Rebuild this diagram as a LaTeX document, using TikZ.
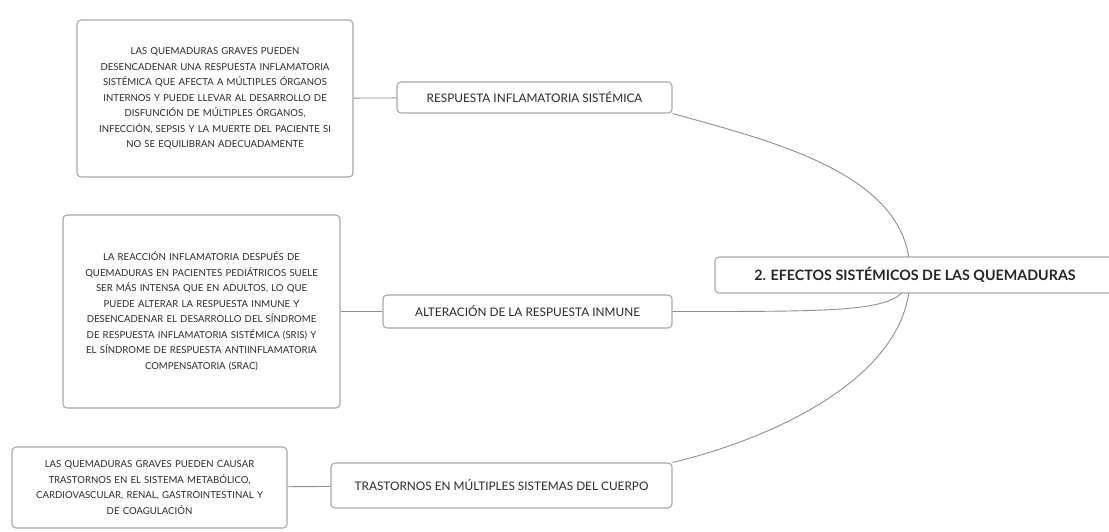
\documentclass[tikz,border=0pt]{standalone}
\usepackage{fontspec}
\setmainfont{Lato}
\usetikzlibrary{positioning}
\definecolor{boxgray}{HTML}{A8A8A8}
\definecolor{linegray}{HTML}{8E8E8E}
\definecolor{textgray}{HTML}{2A2A2A}

\begin{document}
\begin{tikzpicture}
    [
        x=1pt, y=-1pt,
        detail/.style = {
            rectangle, rounded corners=4pt, draw=boxgray, line width=1.1pt,
            fill=white, text=textgray, align=center, inner sep=0pt,
            font=\fontsize{9.6}{15.5}\selectfont
            },
        topic/.style = {
            rectangle, rounded corners=4pt, draw=boxgray, line width=1.1pt,
            fill=white, text=textgray, inner sep=0pt,
            font=\fontsize{11.8}{13}\selectfont
            },
        central/.style = {
            rectangle, rounded corners=4pt, draw=boxgray, line width=1.1pt,
            fill=white, text=black!85, inner sep=0pt,
            font=\fontsize{14.3}{16}\selectfont\bfseries
            },
        link/.style = {
            draw=linegray, line width=0.9pt
            },
    ]
    \useasboundingbox (0,0) rectangle (1109,531);
    % detail boxes
    \node[detail, minimum width=276, minimum height=157, text width=270] (details1) at (215,98.5)
        {LAS QUEMADURAS GRAVES PUEDEN\\ DESENCADENAR UNA RESPUESTA INFLAMATORIA\\ SISTÉMICA QUE AFECTA A MÚLTIPLES ÓRGANOS\\ INTERNOS Y PUEDE LLEVAR AL DESARROLLO DE\\ DISFUNCIÓN DE MÚLTIPLES ÓRGANOS,\\ INFECCIÓN, SEPSIS Y LA MUERTE DEL PACIENTE SI\\ NO SE EQUILIBRAN ADECUADAMENTE};
    \node[detail, minimum width=277, minimum height=193, text width=271] (details2) at (201.5,311.5)
        {LA REACCIÓN INFLAMATORIA DESPUÉS DE\\ QUEMADURAS EN PACIENTES PEDIÁTRICOS SUELE\\ SER MÁS INTENSA QUE EN ADULTOS, LO QUE\\ PUEDE ALTERAR LA RESPUESTA INMUNE Y\\ DESENCADENAR EL DESARROLLO DEL SÍNDROME\\ DE RESPUESTA INFLAMATORIA SISTÉMICA (SRIS) Y\\ EL SÍNDROME DE RESPUESTA ANTIINFLAMATORIA\\ COMPENSATORIA (SRAC)};
    \node[detail, minimum width=275, minimum height=81, text width=269] (details3) at (149.5,487.5)
        {LAS QUEMADURAS GRAVES PUEDEN CAUSAR\\ TRASTORNOS EN EL SISTEMA METABÓLICO,\\ CARDIOVASCULAR, RENAL, GASTROINTESTINAL Y\\ DE COAGULACIÓN};
    % topics
    \node[topic, minimum width=275, minimum height=31] (inflamatoria) at (534.5,97.5)
        {RESPUESTA INFLAMATORIA SISTÉMICA};
    \node[topic, minimum width=289, minimum height=33] (inmune) at (527.5,311.5)
        {ALTERACIÓN DE LA RESPUESTA INMUNE};
    \node[topic, minimum width=341, minimum height=45] (trastornos) at (501.5,485.5)
        {TRASTORNOS EN MÚLTIPLES SISTEMAS DEL CUERPO};
    \draw[link] (details1) -- (inflamatoria);
    \draw[link] (details2) -- (inmune);
    \draw[link] (details3) -- (trastornos);
    % branches
    \coordinate (hub) at (910,275);
    \draw[link] (hub) .. controls (912,175) and (775,142) .. (inflamatoria.south east);
    \draw[link] (hub) .. controls (906,312) and (860,311.5) .. (inmune.east);
    \draw[link] (hub) .. controls (912,375) and (775,438) .. (trastornos.north east);
    \node[central, minimum width=400, minimum height=36] (efectos) at (915,275)
        {2. EFECTOS SISTÉMICOS DE LAS QUEMADURAS};
\end{tikzpicture}
\end{document}
